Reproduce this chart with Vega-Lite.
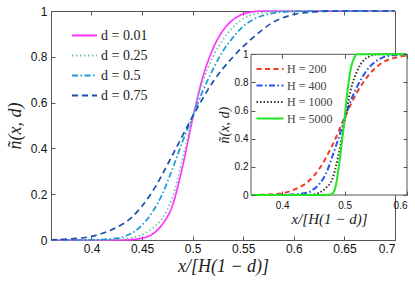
{
  "$schema": "https://vega.github.io/schema/vega-lite/v6.json",
  "width": 344,
  "height": 229,
  "autosize": "none",
  "padding": {"left": 51, "top": 11, "right": 20, "bottom": 42},
  "background": "white",
  "config": {
    "view": {"stroke": "#555", "strokeWidth": 1},
    "axis": {
      "grid": false,
      "domainColor": "#555",
      "tickColor": "#555",
      "tickSize": -4,
      "labelFont": "Liberation Sans",
      "labelColor": "#111",
      "titleFont": "Liberation Serif",
      "titleFontStyle": "italic",
      "titleFontWeight": "normal",
      "titleColor": "#222"
    },
    "legend": {"labelFont": "Liberation Serif", "labelColor": "#222"}
  },
  "datasets": {
    "main": [
      {"d": "d = 0.01", "x": 0.36, "n": 0}, {"d": "d = 0.01", "x": 0.43, "n": 0}, {"d": "d = 0.01", "x": 0.44, "n": 0.002},
      {"d": "d = 0.01", "x": 0.45, "n": 0.008}, {"d": "d = 0.01", "x": 0.46, "n": 0.025}, {"d": "d = 0.01", "x": 0.47, "n": 0.068},
      {"d": "d = 0.01", "x": 0.48, "n": 0.15}, {"d": "d = 0.01", "x": 0.49, "n": 0.32}, {"d": "d = 0.01", "x": 0.5, "n": 0.53},
      {"d": "d = 0.01", "x": 0.51, "n": 0.71}, {"d": "d = 0.01", "x": 0.52, "n": 0.835}, {"d": "d = 0.01", "x": 0.53, "n": 0.915},
      {"d": "d = 0.01", "x": 0.54, "n": 0.962}, {"d": "d = 0.01", "x": 0.55, "n": 0.987}, {"d": "d = 0.01", "x": 0.56, "n": 0.997},
      {"d": "d = 0.01", "x": 0.57, "n": 1}, {"d": "d = 0.01", "x": 0.7, "n": 1},

      {"d": "d = 0.25", "x": 0.36, "n": 0}, {"d": "d = 0.25", "x": 0.41, "n": 0}, {"d": "d = 0.25", "x": 0.42, "n": 0.002},
      {"d": "d = 0.25", "x": 0.43, "n": 0.004}, {"d": "d = 0.25", "x": 0.44, "n": 0.01}, {"d": "d = 0.25", "x": 0.45, "n": 0.024},
      {"d": "d = 0.25", "x": 0.46, "n": 0.05}, {"d": "d = 0.25", "x": 0.47, "n": 0.095}, {"d": "d = 0.25", "x": 0.48, "n": 0.185},
      {"d": "d = 0.25", "x": 0.49, "n": 0.355}, {"d": "d = 0.25", "x": 0.5, "n": 0.535}, {"d": "d = 0.25", "x": 0.51, "n": 0.69},
      {"d": "d = 0.25", "x": 0.52, "n": 0.8}, {"d": "d = 0.25", "x": 0.53, "n": 0.875}, {"d": "d = 0.25", "x": 0.54, "n": 0.93},
      {"d": "d = 0.25", "x": 0.55, "n": 0.966}, {"d": "d = 0.25", "x": 0.56, "n": 0.985}, {"d": "d = 0.25", "x": 0.58, "n": 0.998},
      {"d": "d = 0.25", "x": 0.6, "n": 1}, {"d": "d = 0.25", "x": 0.7, "n": 1},

      {"d": "d = 0.5", "x": 0.36, "n": 0}, {"d": "d = 0.5", "x": 0.39, "n": 0}, {"d": "d = 0.5", "x": 0.4, "n": 0.001},
      {"d": "d = 0.5", "x": 0.42, "n": 0.005}, {"d": "d = 0.5", "x": 0.43, "n": 0.012}, {"d": "d = 0.5", "x": 0.44, "n": 0.03},
      {"d": "d = 0.5", "x": 0.45, "n": 0.065}, {"d": "d = 0.5", "x": 0.46, "n": 0.12}, {"d": "d = 0.5", "x": 0.47, "n": 0.2},
      {"d": "d = 0.5", "x": 0.48, "n": 0.31}, {"d": "d = 0.5", "x": 0.49, "n": 0.43}, {"d": "d = 0.5", "x": 0.5, "n": 0.54},
      {"d": "d = 0.5", "x": 0.51, "n": 0.65}, {"d": "d = 0.5", "x": 0.52, "n": 0.745}, {"d": "d = 0.5", "x": 0.53, "n": 0.825},
      {"d": "d = 0.5", "x": 0.54, "n": 0.885}, {"d": "d = 0.5", "x": 0.55, "n": 0.933}, {"d": "d = 0.5", "x": 0.56, "n": 0.963},
      {"d": "d = 0.5", "x": 0.57, "n": 0.981}, {"d": "d = 0.5", "x": 0.58, "n": 0.991}, {"d": "d = 0.5", "x": 0.6, "n": 0.998},
      {"d": "d = 0.5", "x": 0.62, "n": 1}, {"d": "d = 0.5", "x": 0.7, "n": 1},

      {"d": "d = 0.75", "x": 0.36, "n": 0.001}, {"d": "d = 0.75", "x": 0.38, "n": 0.005}, {"d": "d = 0.75", "x": 0.4, "n": 0.016},
      {"d": "d = 0.75", "x": 0.42, "n": 0.045}, {"d": "d = 0.75", "x": 0.44, "n": 0.1}, {"d": "d = 0.75", "x": 0.46, "n": 0.21},
      {"d": "d = 0.75", "x": 0.48, "n": 0.37}, {"d": "d = 0.75", "x": 0.5, "n": 0.54}, {"d": "d = 0.75", "x": 0.52, "n": 0.69},
      {"d": "d = 0.75", "x": 0.54, "n": 0.8}, {"d": "d = 0.75", "x": 0.56, "n": 0.885}, {"d": "d = 0.75", "x": 0.58, "n": 0.952},
      {"d": "d = 0.75", "x": 0.6, "n": 0.985}, {"d": "d = 0.75", "x": 0.62, "n": 0.996}, {"d": "d = 0.75", "x": 0.64, "n": 1},
      {"d": "d = 0.75", "x": 0.7, "n": 1}
    ],
    "inset": [
      {"H": "H = 200", "x": 0.35, "n": 0}, {"H": "H = 200", "x": 0.37, "n": 0.002}, {"H": "H = 200", "x": 0.38, "n": 0.004},
      {"H": "H = 200", "x": 0.4, "n": 0.012}, {"H": "H = 200", "x": 0.42, "n": 0.04}, {"H": "H = 200", "x": 0.44, "n": 0.09},
      {"H": "H = 200", "x": 0.46, "n": 0.19}, {"H": "H = 200", "x": 0.48, "n": 0.35}, {"H": "H = 200", "x": 0.5, "n": 0.55},
      {"H": "H = 200", "x": 0.52, "n": 0.73}, {"H": "H = 200", "x": 0.54, "n": 0.86}, {"H": "H = 200", "x": 0.56, "n": 0.94},
      {"H": "H = 200", "x": 0.58, "n": 0.975}, {"H": "H = 200", "x": 0.6, "n": 0.99},

      {"H": "H = 400", "x": 0.35, "n": 0}, {"H": "H = 400", "x": 0.4, "n": 0.001}, {"H": "H = 400", "x": 0.42, "n": 0.005},
      {"H": "H = 400", "x": 0.44, "n": 0.016}, {"H": "H = 400", "x": 0.45, "n": 0.04}, {"H": "H = 400", "x": 0.46, "n": 0.08},
      {"H": "H = 400", "x": 0.47, "n": 0.15}, {"H": "H = 400", "x": 0.48, "n": 0.27}, {"H": "H = 400", "x": 0.49, "n": 0.4},
      {"H": "H = 400", "x": 0.5, "n": 0.54}, {"H": "H = 400", "x": 0.51, "n": 0.67}, {"H": "H = 400", "x": 0.52, "n": 0.77},
      {"H": "H = 400", "x": 0.53, "n": 0.85}, {"H": "H = 400", "x": 0.54, "n": 0.91}, {"H": "H = 400", "x": 0.55, "n": 0.95},
      {"H": "H = 400", "x": 0.56, "n": 0.975}, {"H": "H = 400", "x": 0.58, "n": 0.995}, {"H": "H = 400", "x": 0.6, "n": 1},

      {"H": "H = 1000", "x": 0.35, "n": 0}, {"H": "H = 1000", "x": 0.44, "n": 0}, {"H": "H = 1000", "x": 0.45, "n": 0.004},
      {"H": "H = 1000", "x": 0.46, "n": 0.018}, {"H": "H = 1000", "x": 0.47, "n": 0.05}, {"H": "H = 1000", "x": 0.48, "n": 0.11},
      {"H": "H = 1000", "x": 0.49, "n": 0.28}, {"H": "H = 1000", "x": 0.5, "n": 0.52}, {"H": "H = 1000", "x": 0.51, "n": 0.75},
      {"H": "H = 1000", "x": 0.52, "n": 0.88}, {"H": "H = 1000", "x": 0.53, "n": 0.955}, {"H": "H = 1000", "x": 0.54, "n": 0.985},
      {"H": "H = 1000", "x": 0.55, "n": 0.998}, {"H": "H = 1000", "x": 0.56, "n": 1}, {"H": "H = 1000", "x": 0.6, "n": 1},

      {"H": "H = 5000", "x": 0.35, "n": 0}, {"H": "H = 5000", "x": 0.47, "n": 0}, {"H": "H = 5000", "x": 0.48, "n": 0.01},
      {"H": "H = 5000", "x": 0.485, "n": 0.05}, {"H": "H = 5000", "x": 0.49, "n": 0.18}, {"H": "H = 5000", "x": 0.495, "n": 0.35},
      {"H": "H = 5000", "x": 0.5, "n": 0.55}, {"H": "H = 5000", "x": 0.505, "n": 0.75}, {"H": "H = 5000", "x": 0.51, "n": 0.9},
      {"H": "H = 5000", "x": 0.515, "n": 0.97}, {"H": "H = 5000", "x": 0.52, "n": 1}, {"H": "H = 5000", "x": 0.6, "n": 1}
    ],
    "frame": [{"x": 0.35, "xe": 0.6, "n": 0, "ne": 1}]
  },
  "layer": [
    {
      "layer": [
        {
          "data": {"name": "main"},
          "mark": {"type": "line", "strokeWidth": 1.7, "interpolate": "monotone"},
          "encoding": {
            "x": {
              "field": "x", "type": "quantitative",
              "scale": {"domain": [0.36, 0.7], "nice": false, "zero": false},
              "axis": {"orient": "bottom", "values": [0.4, 0.45, 0.5, 0.55, 0.6, 0.65, 0.7], "format": ".2~f",
                       "labelFontSize": 12, "labelPadding": 7, "title": "x/[H(1 − d)]", "titleFontSize": 18, "titlePadding": 3}
            },
            "y": {
              "field": "n", "type": "quantitative",
              "scale": {"domain": [0, 1], "nice": false},
              "axis": {"orient": "left", "values": [0, 0.2, 0.4, 0.6, 0.8, 1], "format": "~g",
                       "labelFontSize": 12, "labelPadding": 8, "title": "ñ(x, d)", "titleFontSize": 18, "titlePadding": 6}
            },
            "color": {
              "field": "d", "type": "nominal",
              "scale": {"domain": ["d = 0.01", "d = 0.25", "d = 0.5", "d = 0.75"], "range": ["#ff33ff", "#6cc4a8", "#1c9ad8", "#1a4fae"]},
              "legend": {"orient": "none", "legendX": 26, "legendY": 17, "title": null, "symbolType": "M-2,0H2", "symbolSize": 156,
                         "symbolStrokeWidth": 1.8, "symbolFillColor": "transparent", "labelFontSize": 14, "rowPadding": 5, "labelOffset": 9}
            },
            "strokeDash": {
              "field": "d", "type": "nominal",
              "scale": {"domain": ["d = 0.01", "d = 0.25", "d = 0.5", "d = 0.75"], "range": [[1, 0], [1.5, 2.5], [6, 2.5, 1.5, 2.5], [6, 4]]},
              "legend": {"orient": "none", "legendX": 26, "legendY": 17, "title": null, "symbolType": "M-2,0H2", "symbolSize": 156,
                         "symbolStrokeWidth": 1.8, "symbolFillColor": "transparent", "labelFontSize": 14, "rowPadding": 5, "labelOffset": 9}
            }
          }
        },
        {
          "data": {"name": "main"},
          "mark": {"type": "point", "opacity": 0},
          "encoding": {
            "x": {"field": "x", "type": "quantitative",
                  "axis": {"orient": "top", "values": [0.4, 0.45, 0.5, 0.55, 0.6, 0.65, 0.7], "labels": false, "domain": false, "title": null}},
            "y": {"field": "n", "type": "quantitative",
                  "axis": {"orient": "right", "values": [0, 0.2, 0.4, 0.6, 0.8, 1], "labels": false, "domain": false, "title": null}}
          }
        }
      ],
      "resolve": {"axis": {"x": "independent", "y": "independent"}}
    },
    {
      "layer": [
        {
          "data": {"name": "frame"},
          "mark": {"type": "rect", "fill": "white", "stroke": "#555", "strokeWidth": 1},
          "encoding": {
            "x": {
              "field": "x", "type": "quantitative",
              "scale": {"domain": [0.35, 0.6], "range": [200, 356], "nice": false, "zero": false},
              "axis": {"orient": "top", "offset": -43.3, "values": [0.4, 0.5, 0.6], "labels": false, "domain": false, "zindex": 1, "title": null}
            },
            "y": {
              "field": "n", "type": "quantitative",
              "scale": {"domain": [0, 1], "range": [184, 43.3], "nice": false},
              "axis": {"orient": "right", "offset": 12, "values": [0, 0.2, 0.4, 0.6, 0.8, 1], "labels": false, "domain": false, "zindex": 1, "title": null}
            },
            "x2": {"field": "xe"},
            "y2": {"field": "ne"}
          }
        },
        {
          "data": {"name": "inset"},
          "mark": {"type": "line", "strokeWidth": 2, "interpolate": "monotone"},
          "encoding": {
            "x": {
              "field": "x", "type": "quantitative",
              "axis": {"orient": "bottom", "offset": -45, "values": [0.4, 0.5, 0.6], "format": "~g", "domain": false, "zindex": 1,
                       "labelFontSize": 10, "labelPadding": 9, "title": "x/[H(1 − d)]", "titleFontSize": 15, "titlePadding": 1}
            },
            "y": {
              "field": "n", "type": "quantitative",
              "axis": {"orient": "left", "offset": -200, "values": [0, 0.2, 0.4, 0.6, 0.8, 1], "format": "~g", "domain": false, "zindex": 1,
                       "labelFontSize": 10, "labelPadding": 7, "title": "ñ(x, d)", "titleFontSize": 14, "titlePadding": 3}
            },
            "color": {
              "field": "H", "type": "nominal",
              "scale": {"domain": ["H = 200", "H = 400", "H = 1000", "H = 5000"], "range": ["#f23b22", "#2155f5", "#333333", "#22e622"]},
              "legend": {"orient": "none", "legendX": 211, "legendY": 50, "title": null, "symbolType": "M-2,0H2", "symbolSize": 182,
                         "symbolStrokeWidth": 2, "symbolFillColor": "transparent", "labelFontSize": 12, "rowPadding": 2.5, "labelOffset": 9,
                         "labelColor": "#444"}
            },
            "strokeDash": {
              "field": "H", "type": "nominal",
              "scale": {"domain": ["H = 200", "H = 400", "H = 1000", "H = 5000"], "range": [[5, 3.5], [6, 2.5, 1.5, 2.5], [1.5, 2], [1, 0]]},
              "legend": {"orient": "none", "legendX": 211, "legendY": 50, "title": null, "symbolType": "M-2,0H2", "symbolSize": 182,
                         "symbolStrokeWidth": 2, "symbolFillColor": "transparent", "labelFontSize": 12, "rowPadding": 2.5, "labelOffset": 9,
                         "labelColor": "#444"}
            }
          }
        }
      ],
      "resolve": {"axis": {"x": "independent", "y": "independent"}}
    }
  ],
  "resolve": {
    "scale": {"x": "independent", "y": "independent", "color": "independent", "strokeDash": "independent"},
    "axis": {"x": "independent", "y": "independent"}
  }
}
